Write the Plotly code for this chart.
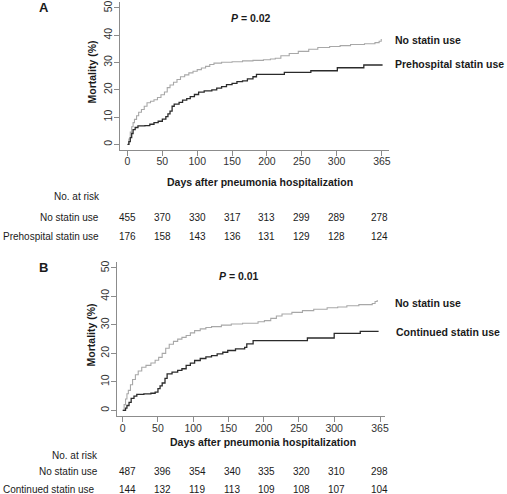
import plotly.graph_objects as go

# ---------------- data ----------------
# Panel A
a_no_days = [0, 2, 4, 6, 8, 10, 13, 16, 20, 24, 28, 33, 38, 43, 48, 53, 57, 61, 66, 71, 76, 82, 88, 94,
             100, 106, 112, 118, 124, 135, 150, 165, 180, 195, 205, 212, 220, 232, 245, 260, 273, 290,
             305, 320, 340, 355, 361, 364]
a_no_mort = [0, 2, 4.5, 6.5, 8, 9.2, 10.5, 11.8, 12.8, 14, 15.3, 15.8, 16.4, 17.2, 18.2, 19.2, 20.8, 21.8,
             22.8, 23.8, 24.8, 25.5, 26.2, 26.8, 27.4, 28, 28.6, 29.3, 29.8, 30.1, 30.3, 30.6, 30.8, 31,
             31.3, 31.6, 32.5, 33.3, 34.1, 34.9, 35.5, 35.9, 36.2, 36.6, 36.9, 37.3, 37.8, 38.6]
a_st_days = [0, 2, 4, 6, 8, 11, 15, 25, 32, 38, 44, 50, 55, 58, 61, 64, 67, 74, 79, 85, 90, 96, 102, 110,
             121, 128, 135, 142, 150, 157, 165, 172, 180, 185, 225, 263, 301, 339, 365]
a_st_mort = [0, 1, 2.5, 4, 5.4, 6.2, 6.8, 6.9, 7.4, 8.0, 8.5, 9.3, 10.2, 11.2, 12.2, 14.0, 14.8, 15.4,
             16.2, 16.8, 17.5, 18.3, 19.2, 19.6, 20.0, 20.6, 21.2, 21.9, 22.4, 23.0, 23.3, 24.0, 24.8,
             25.7, 26.4, 27.0, 28.1, 29.1, 29.4]

# Panel B
b_no_days = [0, 2, 4, 6, 8, 11, 14, 18, 22, 27, 33, 40, 46, 51, 56, 61, 66, 72, 78, 84, 90, 96, 102,
             110, 118, 126, 140, 154, 170, 192, 201, 210, 218, 226, 240, 255, 271, 290, 305, 318, 335,
             354, 358, 361]
b_no_mort = [0, 2, 4, 5.8, 7, 9, 10.8, 12.5, 13.8, 15.1, 15.8, 16.6, 17.6, 18.6, 20, 21.8, 23.2, 24.2,
             25, 25.6, 26.3, 27.2, 28, 28.6, 29.1, 29.4, 29.9, 30.3, 30.6, 31.1, 31.5, 32.3, 33.1, 33.8,
             34.4, 35, 35.5, 36, 36.3, 36.7, 37.1, 37.5, 38.2, 38.7]
b_st_days = [0, 4, 6, 9, 12, 16, 20, 30, 40, 46, 50, 53, 56, 60, 63, 70, 78, 84, 90, 96, 102, 110, 118,
             126, 134, 142, 149, 160, 173, 176, 185, 262, 300, 337, 363]
b_st_mort = [0, 0.8, 1.7, 2.8, 4.2, 5.0, 5.6, 5.8, 6.0, 6.4, 7.6, 8.6, 9.6, 11.2, 12.8, 13.4, 14.0, 14.6,
             15.8, 16.6, 17.5, 18.2, 18.8, 19.2, 19.8, 20.4, 21.0, 21.6, 22.1, 23.3, 24.5, 25.4, 27.0,
             27.7, 27.7]

x_ticks = [0, 50, 100, 150, 200, 250, 300, 365]
y_ticks = [0, 10, 20, 30, 40, 50]

a_groups = ["No statin use", "Prehospital statin use"]
b_groups = ["No statin use", "Continued statin use"]
a_risk_no = [455, 370, 330, 317, 313, 299, 289, 278]
a_risk_st = [176, 158, 143, 136, 131, 129, 128, 124]
b_risk_no = [487, 396, 354, 340, 335, 320, 310, 298]
b_risk_st = [144, 132, 119, 113, 109, 108, 107, 104]
p_a = "0.02"
p_b = "0.01"

# ---------------- figure ----------------
W, H = 507, 494
FONT = "Arial, Liberation Sans, sans-serif"
TXT = "#1a1a1a"
GRAY = "#a8a8a8"
DARK = "#2b2b2b"
AXC = "#8c8c8c"


def px(x):
    return x / W


def py(y):
    return 1 - y / H


fig = go.Figure()
fig.add_trace(go.Scatter(x=a_no_days, y=a_no_mort, mode="lines", line=dict(color=GRAY, width=1.1, shape="hv"),
                         xaxis="x", yaxis="y", showlegend=False))
fig.add_trace(go.Scatter(x=a_st_days, y=a_st_mort, mode="lines", line=dict(color=DARK, width=1.3, shape="hv"),
                         xaxis="x", yaxis="y", showlegend=False))
fig.add_trace(go.Scatter(x=b_no_days, y=b_no_mort, mode="lines", line=dict(color=GRAY, width=1.1, shape="hv"),
                         xaxis="x2", yaxis="y2", showlegend=False))
fig.add_trace(go.Scatter(x=b_st_days, y=b_st_mort, mode="lines", line=dict(color=DARK, width=1.3, shape="hv"),
                         xaxis="x2", yaxis="y2", showlegend=False))

axis_common = dict(showline=True, linecolor=AXC, linewidth=1, ticks="outside", ticklen=5, tickcolor=AXC,
                   tickwidth=1, showgrid=False, zeroline=False,
                   tickfont=dict(family=FONT, size=10.5, color="#333333"))

fig.update_layout(
    width=W, height=H, margin=dict(l=0, r=0, t=0, b=0),
    paper_bgcolor="white", plot_bgcolor="white",
    xaxis=dict(domain=[px(121), px(392)], range=[-10.7, 375], tickvals=x_ticks, anchor="y",
               ticklabelstandoff=-3, **axis_common),
    yaxis=dict(domain=[py(148.5), py(0.5)], range=[-2, 52], tickvals=y_ticks, tickangle=-90, anchor="x",
               ticklabelstandoff=-2, **axis_common),
    xaxis2=dict(domain=[px(118), px(388)], range=[-8, 372], tickvals=x_ticks, anchor="y2",
                ticklabelstandoff=-3, **axis_common),
    yaxis2=dict(domain=[py(415.7), py(261.3)], range=[-2, 52], tickvals=y_ticks, tickangle=-90, anchor="x2",
                ticklabelstandoff=-2, **axis_common),
)

ann = []


def add_text(text, x, y, size=10, bold=False, xanchor="center", textangle=0, xref="paper"):
    if bold:
        text = "<b>" + text + "</b>"
    ann.append(dict(text=text, x=x if xref != "paper" else px(x), y=py(y), xref=xref, yref="paper",
                    xanchor=xanchor, yanchor="middle", showarrow=False, textangle=textangle,
                    font=dict(family=FONT, size=size, color=TXT)))


# Panel labels
add_text("A", 44, 6, size=13, bold=True)
add_text("B", 44, 267, size=13, bold=True)

# Y titles
add_text("Mortality (%)", 92.5, 70, size=10.5, bold=True, textangle=-90)
add_text("Mortality (%)", 91.5, 334, size=10.5, bold=True, textangle=-90)

# X titles
add_text("Days after pneumonia hospitalization", 262, 181, size=10.5, bold=True)
add_text("Days after pneumonia hospitalization", 265, 442, size=10.5, bold=True)

# P values
add_text("<i>P</i> = " + p_a, 253, 16, size=10.5, bold=True)
add_text("<i>P</i> = " + p_b, 241, 275, size=10.5, bold=True)

# Curve labels
add_text(a_groups[0], 396, 38, size=10.5, bold=True, xanchor="left")
add_text(a_groups[1], 396, 62, size=10.5, bold=True, xanchor="left")
add_text(b_groups[0], 396, 302, size=10.5, bold=True, xanchor="left")
add_text(b_groups[1], 397, 331, size=10.5, bold=True, xanchor="left")

# Risk tables
add_text("No. at risk", 103, 195, xanchor="right")
add_text(a_groups[0], 102, 216, xanchor="right")
add_text(a_groups[1], 102, 235, xanchor="right")
add_text("No. at risk", 101, 455, xanchor="right")
add_text(b_groups[0], 101, 471, xanchor="right")
add_text(b_groups[1], 98, 489, xanchor="right")

for d, n1, n2, m1, m2 in zip(x_ticks, a_risk_no, a_risk_st, b_risk_no, b_risk_st):
    dd = d if d != 365 else 362
    add_text(str(n1), dd, 216, xref="x")
    add_text(str(n2), dd, 235, xref="x")
    add_text(str(m1), dd, 471, xref="x")
    add_text(str(m2), dd, 489, xref="x")

fig.update_layout(annotations=ann)
fig.write_html("out.html", config={"displayModeBar": False},
               post_script="document.body.style.margin='0px';document.body.style.overflow='hidden';")
